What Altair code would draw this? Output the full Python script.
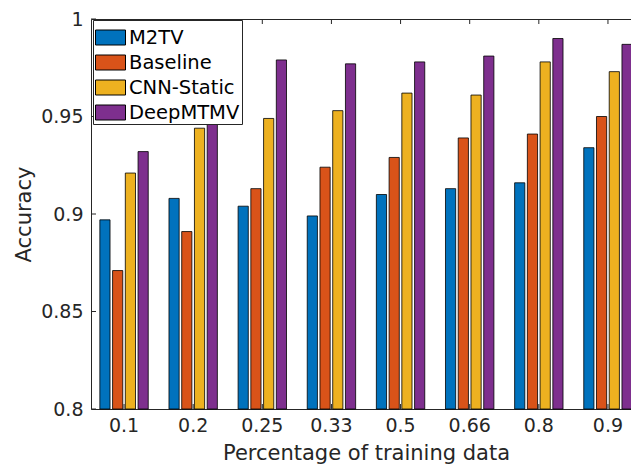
import altair as alt
import pandas as pd

categories = ["0.1", "0.2", "0.25", "0.33", "0.5", "0.66", "0.8", "0.9"]
methods = ["M2TV", "Baseline", "CNN-Static", "DeepMTMV"]
m2tv = [0.897, 0.908, 0.904, 0.899, 0.910, 0.913, 0.916, 0.934]
baseline = [0.871, 0.891, 0.913, 0.924, 0.929, 0.939, 0.941, 0.950]
cnn_static = [0.921, 0.944, 0.949, 0.953, 0.962, 0.961, 0.978, 0.973]
deepmtmv = [0.932, 0.966, 0.979, 0.977, 0.978, 0.981, 0.990, 0.987]
colors = ["#0072BD", "#D95319", "#EDB120", "#7E2F8E"]
yticks = [0.8, 0.85, 0.9, 0.95, 1.0]

series = {"M2TV": m2tv, "Baseline": baseline, "CNN-Static": cnn_static, "DeepMTMV": deepmtmv}
rows = []
for m in methods:
    for c, v in zip(categories, series[m]):
        rows.append({"cat": c, "method": m, "acc": v})
df = pd.DataFrame(rows)

W, H = 550, 390
FONT = "DejaVu Sans"
AX = "#262626"

xscale = alt.Scale(domain=categories, paddingInner=0.30, paddingOuter=0.128)
yscale = alt.Scale(domain=[0.8, 1.0], zero=False, nice=False)

bars = alt.Chart(df).mark_bar(stroke="#000000", strokeWidth=0.8).encode(
    x=alt.X("cat:N", sort=categories, scale=xscale,
            axis=alt.Axis(title="Percentage of training data", labelAngle=0, tickSize=0,
                          domain=False, labelPadding=7, titlePadding=7)),
    xOffset=alt.XOffset("method:N", sort=methods, scale=alt.Scale(domain=methods, paddingInner=0.2)),
    y=alt.Y("acc:Q", scale=yscale,
            axis=alt.Axis(title="Accuracy", values=yticks, format="~g", tickSize=0,
                          domain=False, grid=False, labelPadding=8, titlePadding=6)),
    y2=alt.datum(0.8),
    color=alt.Color("method:N", sort=methods, scale=alt.Scale(domain=methods, range=colors),
                    legend=alt.Legend(title=None, orient="none", legendX=2, legendY=1,
                                      fillColor="white", strokeColor=AX, padding=2,
                                      symbolType="M-1,-0.5L1,-0.5L1,0.5L-1,0.5Z",
                                      symbolSize=900, symbolStrokeColor="#000000",
                                      symbolStrokeWidth=1, symbolOpacity=1,
                                      labelFont=FONT, labelFontSize=19.5, labelColor="#000000",
                                      labelOffset=3, rowPadding=0)),
)

ytdf = pd.DataFrame({"acc": yticks})
xtdf = pd.DataFrame({"cat": categories})

yt_left = alt.Chart(ytdf).mark_rule(color=AX, strokeWidth=1).encode(
    y=alt.Y("acc:Q", scale=yscale), x=alt.value(0), x2=alt.value(5))
yt_right = alt.Chart(ytdf).mark_rule(color=AX, strokeWidth=1).encode(
    y=alt.Y("acc:Q", scale=yscale), x=alt.value(W - 5), x2=alt.value(W))
xt_top = alt.Chart(xtdf).mark_rule(color=AX, strokeWidth=1).encode(
    x=alt.X("cat:N", sort=categories, scale=xscale), y=alt.value(0), y2=alt.value(5))
xt_bot = alt.Chart(xtdf).mark_rule(color=AX, strokeWidth=1).encode(
    x=alt.X("cat:N", sort=categories, scale=xscale), y=alt.value(H - 5), y2=alt.value(H))

chart = alt.layer(bars, yt_left, yt_right, xt_top, xt_bot).properties(
    width=W, height=H,
    padding={"left": 83, "top": 11, "right": -10, "bottom": 59},
    autosize=alt.AutoSizeParams(type="none"),
    background="white",
).configure_view(stroke=AX, strokeWidth=1).configure_axis(
    labelFont=FONT, labelFontSize=19, labelColor=AX,
    titleFont=FONT, titleFontSize=21, titleFontWeight="normal", titleColor=AX,
)

chart.save("out.html", embed_options={"renderer": "svg", "actions": False})
